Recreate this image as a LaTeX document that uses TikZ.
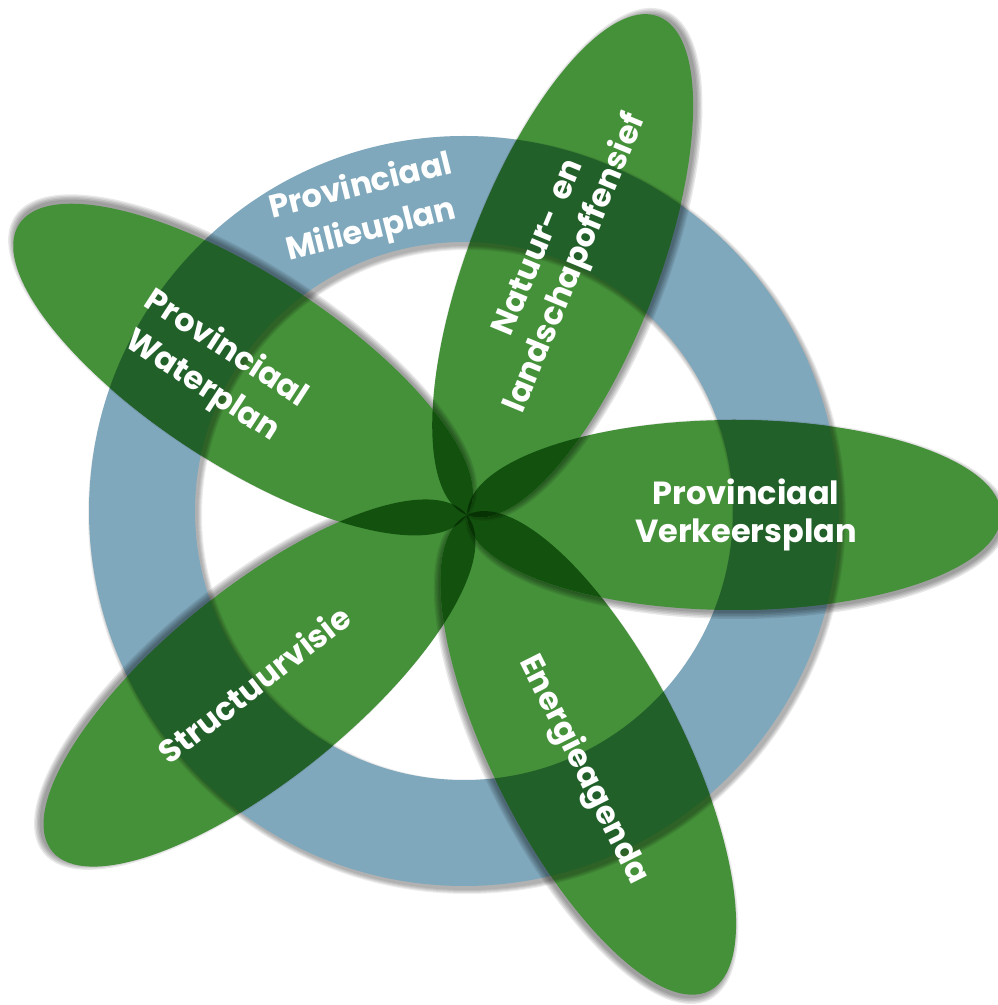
\documentclass[tikz,border=0pt]{standalone}
\usepackage{fontspec}
\newfontfamily\labelfont{Poppins}
\usetikzlibrary{calc}
\definecolor{ringblue}{RGB}{127,168,188}
\definecolor{petalgreen}{RGB}{69,145,58}
\definecolor{petalring}{RGB}{34,96,42}
\definecolor{petaltwo}{RGB}{19,82,14}
\definecolor{petalthree}{RGB}{6,50,4}
\tikzset{
  ringpath/.style={insert path={(C) circle (375pt) (C) circle (269pt)}},
  ringshade/.style={draw=black, draw opacity=0.07},
  petalpath/.style={rotate around={#1:(P)}, insert path={($(P)+(267,0)$) ellipse [x radius=267pt, y radius=95pt]}},
  petalshade/.style={fill=black, fill opacity=0.09},
  lbl/.style={text=white, align=center, inner sep=0pt},
}
\newcommand{\lblfont}[1]{\labelfont\bfseries\fontsize{32}{#1}\selectfont}
\newcommand{\ringshadow}{%
  \foreach \s in {8,6,4,2,0}{
    \draw[ringshade, line width=106pt+\s pt] ($(C)+(3,-4)$) circle (322pt);
  }}
\begin{document}
\begin{tikzpicture}[x=1pt,y=1pt]
\useasboundingbox (0,0) rectangle (997,1005);
\coordinate (C) at (464,494);
\coordinate (P) at (467,490);
% ring with its shadow
\ringshadow
\fill[ringblue, even odd rule, ringpath];
% petals, with the colours they give where they overlap
\foreach \ak [count=\k] in {-141,-63,0,69,147}{
  \foreach \s in {5,3.5,2,0.5,-1}{
    \fill[petalshade, rotate around={\ak:(P)}] ($(P)+(270,-4)$) ellipse [x radius=267pt+\s pt, y radius=95pt+\s pt];
  }
  \fill[petalgreen, petalpath=\ak];
  \begin{scope}
    \clip[petalpath=\ak];
    \ringshadow
    \fill[petalring, even odd rule, ringpath];
    \foreach \aj [count=\j] in {-141,-63,0,69,147}{
      \ifnum\j<\k \fill[petaltwo, petalpath=\aj]; \fi
    }
    \foreach \aj [count=\j] in {-141,-63,0,69,147}{
      \ifnum\j<\k
        \begin{scope}
          \clip[petalpath=\aj];
          \foreach \ai [count=\i] in {-141,-63,0,69,147}{
            \ifnum\i<\j \fill[petalthree, petalpath=\ai]; \fi
          }
        \end{scope}
      \fi
    }
  \end{scope}
}
% labels
\node[lbl, rotate=14, font=\lblfont{45}] (milieu) at (366,796) {Provinciaal\\Milieuplan};
\node[lbl, rotate=-33, font=\lblfont{44}] (water) at (214,637) {Provinciaal\\Waterplan};
\node[lbl, rotate=67.5, font=\lblfont{40}] (natuur) at (559,749) {Natuur- \kern6pt en\\landschapoffensief};
\node[lbl, font=\lblfont{38}] (verkeer) at (746,490) {Provinciaal\\Verkeersplan};
\node[lbl, rotate=-63.4, font=\lblfont{38}] (energie) at (583,235) {Energieagenda};
\node[lbl, rotate=38, font=\lblfont{38}] (structuur) at (254,321) {Structuurvisie};
\end{tikzpicture}
\end{document}
